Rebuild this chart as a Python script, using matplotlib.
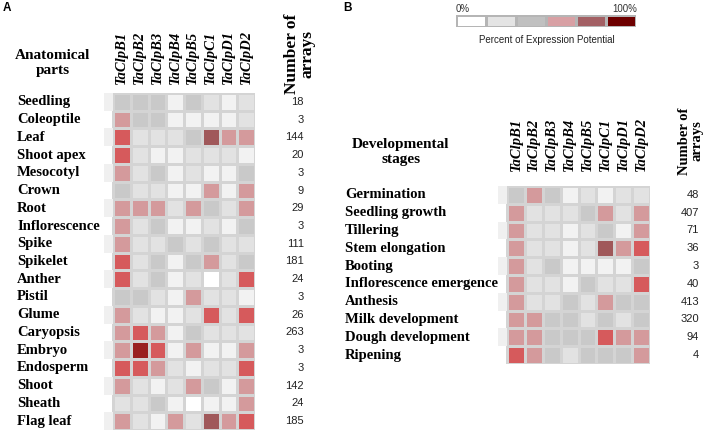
import numpy as np
import matplotlib
matplotlib.use("Agg")
import matplotlib.pyplot as plt
from matplotlib.colors import ListedColormap, BoundaryNorm
from matplotlib.patches import Rectangle

# --- data -----------------------------------------------------------------
genes = ["TaClpB1", "TaClpB2", "TaClpB3", "TaClpB4",
         "TaClpB5", "TaClpC1", "TaClpD1", "TaClpD2"]

# expression level codes, 0 = lowest ... 7 = highest
# (white, very light grey, light grey, grey, pink, red, brown-red, dark red)
anat_parts = ["Seedling", "Coleoptile", "Leaf", "Shoot apex", "Mesocotyl",
              "Crown", "Root", "Inflorescence", "Spike", "Spikelet", "Anther",
              "Pistil", "Glume", "Caryopsis", "Embryo", "Endosperm", "Shoot",
              "Sheath", "Flag leaf"]
anat_arrays = [18, 3, 144, 20, 3, 9, 29, 3, 111, 181, 24, 3, 26, 263, 3, 3,
               142, 24, 185]
anat_levels = [
    [3, 3, 3, 1, 3, 2, 1, 2],
    [4, 3, 3, 1, 1, 1, 1, 2],
    [5, 2, 2, 2, 3, 6, 4, 4],
    [5, 2, 1, 1, 2, 2, 2, 1],
    [4, 2, 3, 1, 2, 1, 1, 3],
    [3, 2, 2, 1, 1, 4, 1, 4],
    [4, 4, 4, 2, 4, 3, 2, 4],
    [4, 2, 3, 1, 1, 2, 1, 3],
    [4, 2, 2, 3, 2, 3, 2, 2],
    [5, 2, 3, 1, 3, 4, 2, 3],
    [5, 2, 3, 1, 2, 0, 2, 5],
    [3, 3, 2, 1, 4, 2, 2, 1],
    [4, 2, 1, 1, 2, 5, 2, 5],
    [4, 5, 4, 1, 3, 2, 2, 2],
    [4, 7, 5, 1, 4, 1, 1, 4],
    [5, 5, 4, 2, 1, 2, 2, 5],
    [4, 2, 1, 2, 4, 3, 1, 4],
    [2, 2, 3, 1, 0, 1, 1, 4],
    [4, 2, 1, 4, 2, 6, 4, 5],
]

dev_stages = ["Germination", "Seedling growth", "Tillering", "Stem elongation",
              "Booting", "Inflorescence emergence", "Anthesis",
              "Milk development", "Dough development", "Ripening"]
dev_arrays = [48, 407, 71, 36, 3, 40, 413, 320, 94, 4]
dev_levels = [
    [3, 4, 3, 1, 2, 1, 2, 2],
    [4, 2, 2, 2, 3, 4, 2, 4],
    [4, 2, 2, 1, 2, 3, 1, 4],
    [4, 2, 2, 1, 2, 6, 4, 5],
    [4, 2, 3, 1, 1, 1, 1, 3],
    [4, 2, 2, 1, 3, 2, 2, 5],
    [4, 2, 2, 3, 2, 4, 3, 3],
    [4, 4, 3, 3, 2, 3, 2, 3],
    [4, 4, 3, 3, 3, 5, 4, 4],
    [5, 4, 3, 2, 3, 3, 3, 4],
]

level_colors = ["#ffffff", "#f2f2f2", "#e2e2e2", "#c9c9c9",
                "#d49a9c", "#d65a5c", "#a0585a", "#9a2020"]
legend_colors = ["#ffffff", "#e4e4e4", "#c0c0c0", "#d8a0a4", "#a36064", "#6e0000"]

# --- figure ---------------------------------------------------------------
W, H = 708, 432
fig = plt.figure(figsize=(W / 100, H / 100), dpi=100)

SERIF = "Liberation Serif"
SANS = "Liberation Sans"

cmap = ListedColormap(level_colors)
norm = BoundaryNorm(np.arange(-0.5, len(level_colors)), cmap.N)


def px_axes(x0, y0, x1, y1):
    """Axes from pixel box (top-left origin)."""
    return fig.add_axes([x0 / W, 1 - y1 / H, (x1 - x0) / W, (y1 - y0) / H])


def heatmap(box, levels, rows, counts, count_x, label_x, lab_bottom,
            title, title_xy, narr_xy, narr_size):
    x0, y0, x1, y1 = box
    data = np.array(levels)
    nr, nc = data.shape
    ax = px_axes(x0 - (x1 - x0) / nc / 2, y0, x1, y1)
    ax.pcolormesh(np.arange(nc + 1), np.arange(nr + 1), data, cmap=cmap,
                  norm=norm, edgecolors="#d4d4d4", linewidth=0.8)
    # faint strip left of the grid
    for i in range(0, nr, 2):
        ax.add_patch(Rectangle((-0.5, i), 0.5, 1, color="#f0f0f0", lw=0))
    ax.set_xlim(-0.5, nc)
    ax.set_ylim(nr, 0)
    ax.axis("off")

    row_h = (y1 - y0) / nr
    col_w = (x1 - x0) / nc
    for i, (r, c) in enumerate(zip(rows, counts)):
        yc = (y0 + (i + 0.5) * row_h) / H
        fig.text(label_x / W, 1 - yc, r, ha="left", va="center",
                 family=SERIF, weight="bold", fontsize=10.5)
        fig.text(count_x / W, 1 - yc, str(c), ha="right", va="center",
                 family=SANS, fontsize=8, color="#222222")
    for j, g in enumerate(genes):
        xc = (x0 + (j + 0.5) * col_w) / W
        fig.text(xc, 1 - lab_bottom / H, g, rotation=90, ha="center",
                 va="bottom", family=SERIF, weight="bold", style="italic",
                 fontsize=10.5)
    fig.text(title_xy[0] / W, 1 - title_xy[1] / H, title, ha="center",
             va="center", family=SERIF, weight="bold", fontsize=11,
             linespacing=1.15)
    fig.text(narr_xy[0] / W, 1 - narr_xy[1] / H, "Number of\narrays",
             rotation=90, ha="center", va="center", multialignment="center",
             family=SERIF, weight="bold", fontsize=narr_size, linespacing=1.0)


heatmap((113, 93, 255, 430), anat_levels, anat_parts, anat_arrays,
        count_x=304, label_x=17, lab_bottom=84,
        title="Anatomical\nparts", title_xy=(53, 63),
        narr_xy=(300, 54), narr_size=12.5)

heatmap((507, 186, 650, 364), dev_levels, dev_stages, dev_arrays,
        count_x=699, label_x=345, lab_bottom=171,
        title="Developmental\nstages", title_xy=(401, 152),
        narr_xy=(691, 141), narr_size=10.5)

# --- colour legend --------------------------------------------------------
lax = px_axes(456, 15, 636, 27)
lax.pcolormesh(np.arange(len(legend_colors) + 1), [0, 1],
               np.arange(len(legend_colors))[None, :],
               cmap=ListedColormap(legend_colors), edgecolors="#b5b5b5",
               linewidth=0.8)
lax.set_xlim(0, len(legend_colors))
lax.set_ylim(0, 1)
lax.axis("off")
fig.text(456 / W, 1 - 9 / H, "0%", ha="left", va="center", family=SANS,
         fontsize=7, color="#333333")
fig.text(637 / W, 1 - 9 / H, "100%", ha="right", va="center", family=SANS,
         fontsize=7, color="#333333")
fig.text(547 / W, 1 - 40 / H, "Percent of Expression Potential", ha="center",
         va="center", family=SANS, fontsize=7, color="#222222")

# panel letters
fig.text(3 / W, 1 - 8 / H, "A", ha="left", va="center", family=SANS,
         weight="bold", fontsize=8.5)
fig.text(343 / W, 1 - 8 / H, "B", ha="left", va="center", family=SANS,
         weight="bold", fontsize=8.5)

fig.savefig("out.png", dpi=100)
